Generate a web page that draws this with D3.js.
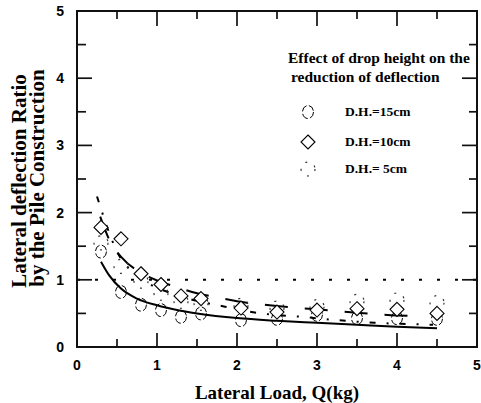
<!DOCTYPE html>
<html>
<head>
<meta charset="utf-8">
<script src="https://cdn.jsdelivr.net/npm/d3@7"></script>
<style>
  body { margin: 0; background: #fff; }
  svg { display: block; }
</style>
</head>
<body>
<svg id="chart"></svg>
<script>
const loads = [0.3, 0.55, 0.8, 1.05, 1.3, 1.55, 2.05, 2.5, 3.0, 3.5, 4.0, 4.5]
const dh15 = [1.42, 0.82, 0.63, 0.55, 0.45, 0.5, 0.4, 0.42, 0.48, 0.43, 0.43, 0.42]
const dh10 = [1.78, 1.61, 1.09, 0.93, 0.76, 0.72, 0.58, 0.52, 0.55, 0.57, 0.56, 0.5]
const dh5 = [1.55, 1.2, 0.98, 0.8, 0.68, 0.65, 0.62, 0.58, 0.6, 0.68, 0.7, 0.66]

// fitted curves (x, y) as drawn
const fit15 = [[0.3, 1.27], [0.4, 1.07], [0.55, 0.87], [0.75, 0.72], [1, 0.62], [1.25, 0.55], [1.5, 0.5], [2, 0.43], [2.5, 0.39], [3, 0.36], [3.5, 0.33], [4, 0.3], [4.5, 0.28]]
const fit10 = [[0.29, 1.94], [0.41, 1.58], [0.56, 1.33], [0.81, 1.1], [1, 0.99], [1.25, 0.89], [1.5, 0.8], [1.75, 0.74], [2, 0.68], [2.5, 0.61], [3, 0.56], [3.5, 0.51], [4, 0.47], [4.3, 0.46]]
const fit5 = [[0.25, 2.24], [0.5, 1.42], [0.83, 1.0], [1.23, 0.78], [1.6, 0.66], [1.85, 0.6], [2.3, 0.5], [2.8, 0.45], [3.25, 0.4], [3.72, 0.36], [4.2, 0.34], [4.45, 0.33]]

const xMajor = [0, 1, 2, 3, 4, 5]
const xMinor = [0.5, 1.5, 2.5, 3.5, 4.5]
const yMajor = [0, 1, 2, 3, 4, 5]
const yMinor = [0.5, 1.5, 2.5, 3.5, 4.5]

const legendTitle = ['Effect of drop height on the', 'reduction of deflection']
const legendLabels = ['D.H.=15cm', 'D.H.=10cm', 'D.H.= 5cm']

const width = 481
const height = 403
const plotL = 77, plotR = 477, plotT = 11, plotB = 347

const svg = d3.select('svg#chart')
  .attr('width', width)
  .attr('height', height)

const x = d3.scaleLinear().domain([0, 5]).range([plotL, plotR])
const y = d3.scaleLinear().domain([0, 5]).range([plotB, plotT])

const tickFont = '"Liberation Sans", Arial, sans-serif'
const serif = '"Liberation Serif", "Times New Roman", serif'

// reference line at ratio = 1
svg.append('line')
  .attr('x1', x(0)).attr('x2', x(5))
  .attr('y1', y(1)).attr('y2', y(1))
  .attr('stroke', '#000').attr('stroke-width', 2)
  .attr('stroke-dasharray', '3,15')

const line = d3.line()
  .x(d => x(d[0]))
  .y(d => y(d[1]))
  .curve(d3.curveMonotoneX)

svg.append('path').datum(fit15)
  .attr('d', line).attr('fill', 'none')
  .attr('stroke', '#000').attr('stroke-width', 2)
svg.append('path').datum(fit10)
  .attr('d', line).attr('fill', 'none')
  .attr('stroke', '#000').attr('stroke-width', 2)
  .attr('stroke-dasharray', '23,17')
svg.append('path').datum(fit5)
  .attr('d', line).attr('fill', 'none')
  .attr('stroke', '#000').attr('stroke-width', 2)
  .attr('stroke-dasharray', '6,11,2,11')

// markers
const diamond = s => `M0,${-s}L${s},0L0,${s}L${-s},0Z`

function circle15(sel) {
  sel.append('ellipse').attr('rx', 5.5).attr('ry', 6.5)
    .attr('fill', 'none').attr('stroke', '#000').attr('stroke-width', 1)
    .attr('stroke-dasharray', '7,2.5')
}
function diamond10(sel) {
  sel.append('path').attr('d', diamond(7))
    .attr('fill', '#fff').attr('stroke', '#000').attr('stroke-width', 1.1)
}
function dotted5(sel) {
  sel.append('circle').attr('r', 7)
    .attr('fill', 'none').attr('stroke', '#333').attr('stroke-width', 1.2)
    .attr('stroke-dasharray', '2,8')
}

const series = [
  { vals: dh5, draw: dotted5 },
  { vals: dh15, draw: circle15 },
  { vals: dh10, draw: diamond10 }
]
series.forEach(s => {
  svg.append('g').selectAll('g')
    .data(loads.map((l, i) => [l, s.vals[i]]))
    .enter().append('g')
    .attr('transform', d => `translate(${x(d[0])},${y(d[1])})`)
    .each(function() { s.draw(d3.select(this)) })
})

// frame with inward ticks on all four sides, drawn last so nothing covers it
const frame = svg.append('g').attr('class', 'frame')
frame.append('rect')
  .attr('x', plotL).attr('y', plotT)
  .attr('width', plotR - plotL).attr('height', plotB - plotT)
  .attr('fill', 'none').attr('stroke', '#111').attr('stroke-width', 2)

const ticks = []
xMajor.forEach(v => { ticks.push([x(v), plotB, x(v), plotB - 14]); ticks.push([x(v), plotT, x(v), plotT + 15]) })
xMinor.forEach(v => { ticks.push([x(v), plotB, x(v), plotB - 8]); ticks.push([x(v), plotT, x(v), plotT + 8]) })
yMajor.forEach(v => { ticks.push([plotL, y(v), plotL + 15, y(v)]); ticks.push([plotR, y(v), plotR - 15, y(v)]) })
yMinor.forEach(v => { ticks.push([plotL, y(v), plotL + 9, y(v)]); ticks.push([plotR, y(v), plotR - 8, y(v)]) })

frame.selectAll('line')
  .data(ticks)
  .enter().append('line')
  .attr('x1', d => d[0]).attr('y1', d => d[1])
  .attr('x2', d => d[2]).attr('y2', d => d[3])
  .attr('stroke', '#111').attr('stroke-width', 1.7)

svg.append('g').selectAll('text')
  .data(xMajor)
  .enter().append('text')
  .attr('x', d => x(d)).attr('y', plotB + 23)
  .attr('text-anchor', 'middle')
  .attr('font-family', tickFont).attr('font-weight', 'bold').attr('font-size', 14)
  .text(d => d)

svg.append('g').selectAll('text')
  .data(yMajor)
  .enter().append('text')
  .attr('x', plotL - 13).attr('y', d => y(d) + 5)
  .attr('text-anchor', 'end')
  .attr('font-family', tickFont).attr('font-weight', 'bold').attr('font-size', 14)
  .text(d => d)

// legend
svg.append('g').selectAll('text')
  .data(legendTitle)
  .enter().append('text')
  .attr('x', (d, i) => i === 0 ? 288 : 291)
  .attr('y', (d, i) => i === 0 ? 63 : 82)
  .attr('font-family', serif).attr('font-weight', 'bold').attr('font-size', 15.5)
  .text(d => d)

const legendY = [112, 142, 169]
const drawers = [circle15, diamond10, dotted5]
legendLabels.forEach((lab, i) => {
  const g = svg.append('g').attr('transform', `translate(308,${legendY[i]})`)
  drawers[i](g)
  svg.append('text')
    .attr('x', 345).attr('y', legendY[i] + 4)
    .attr('font-family', serif).attr('font-weight', 'bold').attr('font-size', 13.5)
    .text(lab)
})

// axis titles
svg.append('text')
  .attr('x', 277).attr('y', 399)
  .attr('text-anchor', 'middle')
  .attr('font-family', serif).attr('font-weight', 'bold').attr('font-size', 19)
  .text('Lateral Load, Q(kg)')

svg.append('text')
  .attr('transform', 'translate(26,181) rotate(-90)')
  .attr('text-anchor', 'middle')
  .attr('font-family', serif).attr('font-weight', 'bold').attr('font-size', 21)
  .text('Lateral deflection Ratio')
svg.append('text')
  .attr('transform', 'translate(44,178) rotate(-90)')
  .attr('text-anchor', 'middle')
  .attr('font-family', serif).attr('font-weight', 'bold').attr('font-size', 21)
  .text('by the Pile Construction')
</script>
</body>
</html>
